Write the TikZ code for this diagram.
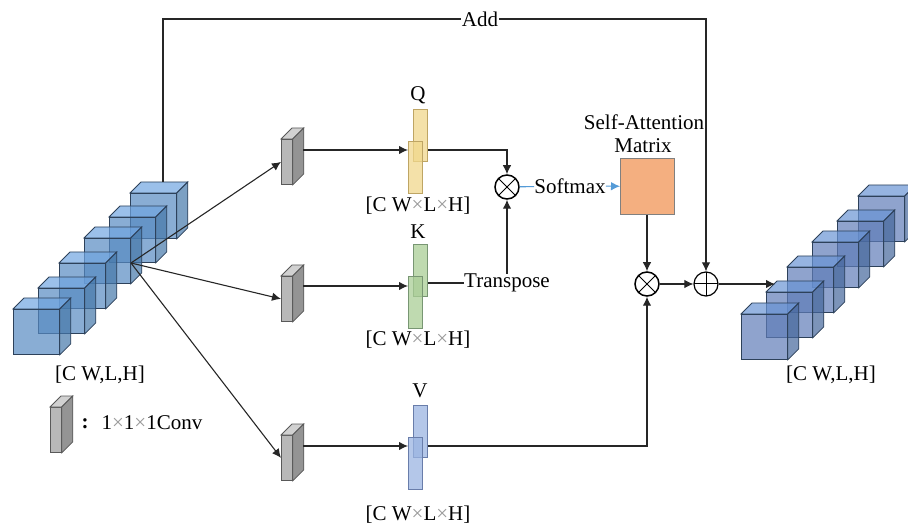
\documentclass[tikz,border=0pt]{standalone}
\usepackage{fontspec}
\setmainfont{Liberation Serif}
\usepackage{tikz}
\usetikzlibrary{calc}
\usetikzlibrary{positioning}
\usetikzlibrary{arrows.meta}

\definecolor{lfront}{RGB}{87,138,194}
\definecolor{ltop}{RGB}{112,165,225}
\definecolor{lside}{RGB}{69,119,169}
\definecolor{rfront}{RGB}{95,124,184}
\definecolor{rtop}{RGB}{105,148,212}
\definecolor{rside}{RGB}{69,102,155}
\definecolor{edgeline}{RGB}{45,65,90}
\definecolor{softblue}{RGB}{85,155,215}
\definecolor{qfill}{RGB}{240,215,140}
\definecolor{qedge}{RGB}{190,165,100}
\definecolor{kfill}{RGB}{170,205,150}
\definecolor{kedge}{RGB}{120,150,115}
\definecolor{vfill}{RGB}{155,180,225}
\definecolor{vedge}{RGB}{105,125,170}
\definecolor{matfill}{RGB}{244,175,128}

\tikzset{
	label/.style={font=\fontsize{21}{21}\selectfont, inner sep=0pt},
	link/.style={line width=1.1pt, draw=black!85, -{Latex[length=9pt,width=8.5pt]}},
	plainlink/.style={line width=1.1pt, draw=black!85},
	cubeface/.style={draw=edgeline, line width=0.8pt, fill opacity=0.7},
	cubefront/.style={cubeface, rectangle, anchor=north west, inner sep=0pt, minimum width=46pt, minimum height=45pt},
	convfront/.style={rectangle, draw=black!65, line width=0.8pt, fill=black!28, anchor=north west, inner sep=0pt, minimum width=11pt, minimum height=45pt},
	bar/.style={rectangle, line width=0.8pt, anchor=north west, inner sep=0pt, minimum width=14pt, minimum height=52pt, fill opacity=0.75},
	opnode/.style={circle, draw=black, line width=1.5pt, minimum size=24pt, inner sep=0pt, fill=white},
	mulnode/.style={opnode, path picture={
		\draw[line width=1pt] (path picture bounding box.north west) -- (path picture bounding box.south east);
		\draw[line width=1pt] (path picture bounding box.north east) -- (path picture bounding box.south west);}},
	addnode/.style={opnode, line width=1.2pt, path picture={
		\draw[line width=1pt] (path picture bounding box.north) -- (path picture bounding box.south);
		\draw[line width=1pt] (path picture bounding box.east) -- (path picture bounding box.west);}},
}
\newcommand{\gx}{\textcolor{black!40}{×}}
% #1 name, #2 position, #3 colour prefix
\newcommand{\cubebox}[3]{
	\node[cubefront, fill=#3front] (#1) at #2 {};
	\fill[cubeface, fill=#3top] (#1.north west) -- ++(11pt,11pt) -- ($(#1.north east)+(11pt,11pt)$) -- (#1.north east) -- cycle;
	\fill[cubeface, fill=#3side] (#1.north east) -- ++(11pt,11pt) -- ($(#1.south east)+(11pt,11pt)$) -- (#1.south east) -- cycle;
}
\newcommand{\convbox}[2]{
	\node[convfront] (#1) at #2 {};
	\fill[draw=black!65, line width=0.8pt, fill=black!18] (#1.north west) -- ++(11pt,11pt) -- ($(#1.north east)+(11pt,11pt)$) -- (#1.north east) -- cycle;
	\fill[draw=black!65, line width=0.8pt, fill=black!42] (#1.north east) -- ++(11pt,11pt) -- ($(#1.south east)+(11pt,11pt)$) -- (#1.south east) -- cycle;
}

\begin{document}
\begin{tikzpicture}[x=1pt, y=-1pt]
	\useasboundingbox (0,0) rectangle (908,529);

	\foreach \n/\x/\y in {6/130/193, 5/109/217, 4/84/238, 3/59/263, 2/38/288, 1/13/309}
		{\cubebox{lcube\n}{(\x,\y)}{l}}
	\foreach \n/\x/\y in {6/858/196, 5/837/221, 4/812/242, 3/787/267, 2/766/292, 1/741/314}
		{\cubebox{rcube\n}{(\x,\y)}{r}}

	\convbox{conva}{(281,139)}
	\convbox{convb}{(281,276)}
	\convbox{convc}{(281,435)}
	\convbox{convd}{(50,407)}

	\node[bar, draw=qedge, fill=qfill] (qback) at (413,109) {};
	\node[bar, draw=qedge, fill=qfill] (qfront) at (408,141) {};
	\node[bar, draw=kedge, fill=kfill] (kback) at (413,244) {};
	\node[bar, draw=kedge, fill=kfill] (kfront) at (408,276) {};
	\node[bar, draw=vedge, fill=vfill] (vback) at (413,405) {};
	\node[bar, draw=vedge, fill=vfill] (vfront) at (408,437) {};

	\node[rectangle, draw=black!50, line width=0.8pt, fill=matfill, anchor=north west, inner sep=0pt, minimum width=54pt, minimum height=56pt] (matrix) at (620,158) {};

	\node[mulnode] (mula) at (507,187) {};
	\node[mulnode] (mulb) at (647,284) {};
	\node[addnode] (addop) at (706,284) {};

	\node[label] (qlabel) at (418,95) {Q};
	\node[label] (klabel) at (418,232) {K};
	\node[label] (vlabel) at (420,391) {V};
	\node[label] (qdim) at (418,206) {[C W\gx L\gx H]};
	\node[label] (kdim) at (418,340) {[C W\gx L\gx H]};
	\node[label] (vdim) at (418,515) {[C W\gx L\gx H]};
	\node[label] (ldim) at (100,375) {[C W,L,H]};
	\node[label] (rdim) at (831,375) {[C W,L,H]};
	\node[label, font=\fontsize{21}{21}\selectfont\bfseries] (colon) at (85,424) {:};
	\node[label] (convtext) at (152,423) {1\gx 1\gx 1Conv};
	\node[label] (selfatt) at (644,122) {Self-Attention};
	\node[label] (mattext) at (643,146) {Matrix};
	\node[label] (softmax) at (570,186) {Softmax};
	\node[label] (transpose) at (507,283) {Transpose};
	\node[label, fill=white, inner xsep=1pt] (addtext) at (480,19) {Add};

	\coordinate (source) at (131,263);
	\coordinate (convaout) at (303,150);
	\coordinate (convbout) at (303,286);
	\coordinate (convcout) at (303,446);
	\coordinate (addstart) at (163,182);
	\coordinate (rin) at (775,284);

	\draw[plainlink] (addstart) |- (addtext);
	\draw[link] (addtext) -| (addop);
	\draw[link] (source) -- (conva.west);
	\draw[link] (source) -- (convb.west);
	\draw[link] (source) -- (convc.west);
	\draw[link] (convaout) -- (qfront.west |- convaout);
	\draw[link] (convbout) -- (kfront.west |- convbout);
	\draw[link] (convcout) -- (vfront.west |- convcout);
	\draw[link] (qback.east |- convaout) -| (mula);
	\draw[plainlink] (kback.east |- transpose) -- (transpose);
	\draw[link] (transpose.north -| mula) -- (mula);
	\draw[plainlink, draw=softblue] (mula) -- (softmax);
	\draw[link, draw=softblue, line width=1pt] (softmax) -- (matrix);
	\draw[link] (vback.east |- convcout) -| (mulb);
	\draw[link] (matrix.south -| mulb) -- (mulb);
	\draw[link] (mulb) -- (addop);
	\draw[link] (addop) -- (rin);
\end{tikzpicture}
\end{document}
